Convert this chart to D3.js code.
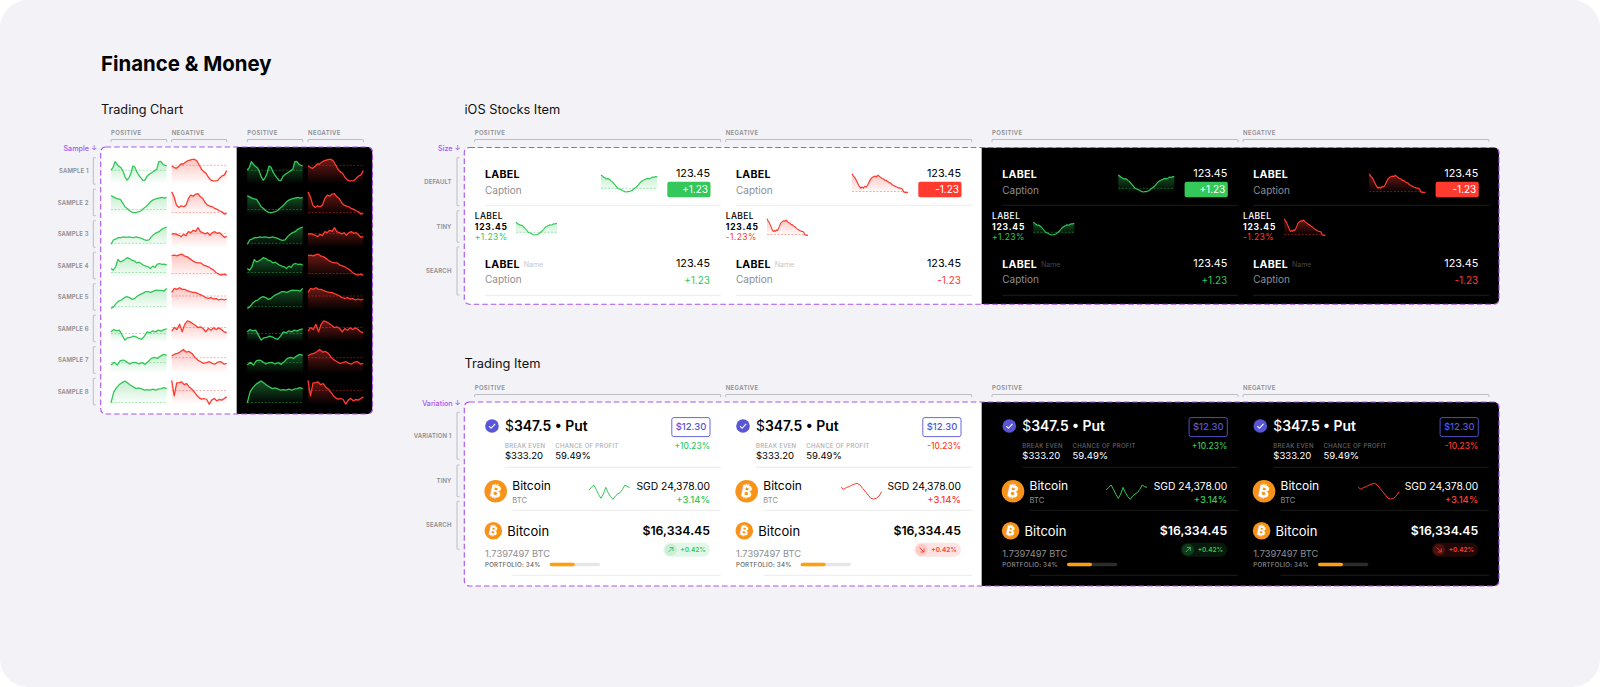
<!DOCTYPE html>
<html>
<head>
<meta charset="utf-8">
<script src="https://cdn.jsdelivr.net/npm/d3@7"></script>
<style>
  html, body { margin: 0; padding: 0; background: #fff; }
  svg { display: block; }
  text { font-family: Inter, "Noto Sans", sans-serif; }
</style>
</head>
<body>
<div id="chart"></div>
<script>
const sampleNames = ["SAMPLE 1", "SAMPLE 2", "SAMPLE 3", "SAMPLE 4", "SAMPLE 5", "SAMPLE 6", "SAMPLE 7", "SAMPLE 8"]
const toneNames = ["POSITIVE", "NEGATIVE"]
const stockRows = ["DEFAULT", "TINY", "SEARCH"]
const tradeRows = ["VARIATION 1", "TINY", "SEARCH"]

const positiveSamples = [
  [43,50,68,61,54,50,40,23,12,19,33,55,51,37,27,19,12,11,23,29,33,37,41,45,68,69,61,57,55],
  [61,57,53,51,49,39,27,22,15,11,9,10,12,15,22,27,34,42,47,50,52,54,55,53,55],
  [9,22,25,29,29,31,30,31,30,29,31,29,27,23,21,22,32,39,44,47,54,58,61],
  [31,26,36,58,51,54,58,64,61,56,54,48,50,46,41,38,36,31,38,34,44,46,43,44,41],
  [5,11,21,28,31,38,41,38,33,36,43,48,51,56,56,54,58,61,60,60,58,66],
  [30,37,33,35,20,5,12,13,17,15,10,7,17,30,27,33,30,35,32,37,39],
  [25,33,25,38,40,35,28,32,33,28,32,27,35,45,48,45,52,57,55],
  [6,39,52,61,67,72,66,59,54,49,51,48,44,46,44,47,44,47,49,52,49]
]
const negativeSamples = [
  [55,51,48,53,61,61,66,71,73,75,75,70,58,45,38,33,21,13,10,10,11,19,25,28,41],
  [72,57,32,25,30,27,32,52,62,59,65,67,57,52,39,32,29,27,22,19,15,12,5,7],
  [39,41,39,36,32,39,35,47,44,51,48,59,47,44,40,44,36,44,47,42,44,37,30,33],
  [70,71,69,73,74,68,66,60,54,50,48,48,42,39,36,31,26,18,14,11,14,10],
  [54,66,63,68,63,63,59,56,54,54,50,47,43,38,36,38,34,35,31,34,31,34],
  [32,43,37,53,30,53,63,60,55,50,43,45,40,30,40,35,42,37,42,37,30,28],
  [52,58,60,65,72,64,66,60,48,40,35,30,32,35,30,28,34,35,28,30],
  [74,27,66,67,69,61,64,54,48,39,29,21,17,19,16,2,14,19,12,16,14,19,24]
]
const positiveBase = [42, 19, 12, 19, 11, 25, 33, 7]
const negativeBase = [57, 10, 42, 16, 43, 43, 47, 43]

const stockUp = [55,52,48,46,43,44,42,38,35,30,25,20,15,13,12,9,7,5,4,5,5,7,8,12,15,18,22,27,32,36,38,41,42,45,44,44,47,49,48,50,50]
const stockDown = [68,60,55,45,35,25,18,22,18,24,22,30,40,50,55,58,60,58,63,60,55,52,50,45,45,40,38,35,30,27,25,22,20,18,18,15,5,3,2,4]
const stockUpBase = 15
const stockDownBase = 6
const tradeUp = [35,43,50,37,22,10,23,43,27,15,7,17,23,27,37,50,45,43]
const tradeDown = [43,37,43,45,50,53,55,50,40,30,20,10,8,10,17,30]

const GREEN = "#34c759", RED = "#ff3b30", INDIGO = "#5856d6", ORANGE = "#f7931a", PURPLE = "#a855f0"

const svg = d3.select("#chart").append("svg").attr("width", 1600).attr("height", 687)
const defs = svg.append("defs")
let gradId = 0

svg.append("rect").attr("width", 1600).attr("height", 687).attr("rx", 28).attr("fill", "#f2f2f7")

function label(g, x, y, str, o = {}) {
  return g.append("text")
    .attr("x", x).attr("y", y)
    .attr("dy", "0.36em")
    .attr("text-anchor", o.anchor || "start")
    .attr("font-size", o.size || 10)
    .attr("font-weight", o.weight || 400)
    .attr("letter-spacing", o.ls || 0)
    .attr("fill", o.fill || "#000")
    .text(str)
}

function gradient(color, peak) {
  const id = "fade" + gradId++
  const lg = defs.append("linearGradient").attr("id", id).attr("x1", 0).attr("x2", 0).attr("y1", 0).attr("y2", 1)
  lg.append("stop").attr("offset", 0).attr("stop-color", color).attr("stop-opacity", peak)
  lg.append("stop").attr("offset", 1).attr("stop-color", color).attr("stop-opacity", 0)
  return `url(#${id})`
}

// one small chart: filled area, dashed base line, line on top
function spark(g, values, base, box, domainMax, color, dark, lw) {
  const x = d3.scaleLinear().domain([0, values.length - 1]).range([box.x0, box.x1])
  const y = d3.scaleLinear().domain([0, domainMax]).range([box.y1, box.y0])
  if (base !== null) {
    const area = d3.area().x((d, i) => x(i)).y0(box.y1).y1(d => y(d))
    g.append("path").datum(values).attr("d", area).attr("fill", gradient(color, dark ? 0.42 : 0.3))
    g.append("line")
      .attr("x1", box.x0).attr("x2", box.x1)
      .attr("y1", y(base)).attr("y2", y(base))
      .attr("stroke", color).attr("stroke-width", 0.7)
      .attr("stroke-dasharray", "2 1.5").attr("opacity", 0.6)
  }
  const line = d3.line().x((d, i) => x(i)).y(d => y(d))
  g.append("path").datum(values).attr("d", line)
    .attr("fill", "none").attr("stroke", color).attr("stroke-width", lw || 1).attr("stroke-linejoin", "round")
}

// "[" shaped bracket on the left of a row
function rowBracket(g, x, y0, y1) {
  g.append("path")
    .attr("d", `M${x + 2.4},${y0}H${x + 0.6}Q${x},${y0} ${x},${y0 + 0.6}V${y1 - 0.6}Q${x},${y1} ${x + 0.6},${y1}H${x + 2.4}`)
    .attr("fill", "none").attr("stroke", "#aeaeb4").attr("stroke-width", 0.8)
}

// bracket above a column
function topBracket(g, x0, x1, y, name) {
  label(g, x0, y - 7, name, { size: 6, weight: 600, ls: 0.35, fill: "#8e8e93" })
  g.append("path")
    .attr("d", `M${x0},${y + 2.6}V${y + 0.6}Q${x0},${y} ${x0 + 0.6},${y}H${x1 - 0.6}Q${x1},${y} ${x1},${y + 0.6}V${y + 2.6}`)
    .attr("fill", "none").attr("stroke", "#aeaeb4").attr("stroke-width", 0.8)
}

// white + black panel with the dashed outline
function frame(g, x0, x1, y0, y1, split, name) {
  const id = "clip" + gradId++
  defs.append("clipPath").attr("id", id).append("rect")
    .attr("x", x0).attr("y", y0).attr("width", x1 - x0).attr("height", y1 - y0).attr("rx", 5)
  const inner = g.append("g").attr("clip-path", `url(#${id})`)
  inner.append("rect").attr("x", x0).attr("y", y0).attr("width", split - x0).attr("height", y1 - y0).attr("fill", "#fff")
  inner.append("rect").attr("x", split).attr("y", y0).attr("width", x1 - split).attr("height", y1 - y0).attr("fill", "#000")
  g.append("rect")
    .attr("x", x0).attr("y", y0).attr("width", x1 - x0).attr("height", y1 - y0).attr("rx", 5)
    .attr("fill", "none").attr("stroke", PURPLE).attr("stroke-width", 1.1).attr("stroke-dasharray", "5.5 3")
  label(g, x0 - 3.6, y0 + 1.2, name + " ↓", { anchor: "end", size: 7.2, weight: 500, fill: PURPLE })
}

function hairline(g, x0, x1, y, dark) {
  g.append("line").attr("x1", x0).attr("x2", x1).attr("y1", y).attr("y2", y)
    .attr("stroke", dark ? "#232325" : "#e6e6ea").attr("stroke-width", 0.8)
}

function bitcoin(g, cx, cy, r) {
  g.append("circle").attr("cx", cx).attr("cy", cy).attr("r", r).attr("fill", ORANGE)
  g.append("text")
    .attr("transform", `translate(${cx},${cy}) rotate(12)`)
    .attr("text-anchor", "middle").attr("dy", "0.36em")
    .attr("font-size", r * 1.45).attr("font-weight", 800).attr("fill", "#fff")
    .text("₿")
}

// ---- Titles ----
label(svg, 101, 64, "Finance & Money", { size: 20.4, weight: 700 })
label(svg, 101, 109, "Trading Chart", { size: 12.7, weight: 400, fill: "#111" })
label(svg, 464.5, 109, "iOS Stocks Item", { size: 12.8, weight: 400, fill: "#111" })
label(svg, 464.5, 363, "Trading Item", { size: 12.8, weight: 400, fill: "#111" })

// ---- Trading Chart ----
const tc = svg.append("g")
const tcColumns = [[111, 166.7], [171.7, 226.7], [247.3, 302.7], [308, 363.3]]
tcColumns.forEach((c, i) => topBracket(tc, c[0], c[1], 139.5, toneNames[i % 2]))
frame(tc, 100.7, 372.5, 147, 414, 236.7, "Sample")

const rowY = d3.scaleLinear().domain([0, 7]).range([157.7, 378.3])
const rowH = 26.5
sampleNames.forEach((name, i) => {
  const top = rowY(i)
  rowBracket(tc, 93.3, top, top + rowH)
  label(tc, 88.6, top + 13.2, name, { anchor: "end", size: 6, weight: 600, ls: 0.12, fill: "#8e8e93" })
  tcColumns.forEach((c, j) => {
    const neg = j % 2 === 1
    const box = { x0: c[0], x1: c[1], y0: top, y1: top + rowH }
    spark(tc, neg ? negativeSamples[i] : positiveSamples[i], neg ? negativeBase[i] : positiveBase[i],
      box, 80, neg ? RED : GREEN, j > 1, 1.3)
  })
})

// ---- iOS Stocks Item ----
const ios = svg.append("g")
const offsets = [0, 251, 517.3, 768.3]
offsets.forEach((o, i) => topBracket(ios, 474.7 + o, 720.7 + o, 139.5, toneNames[i % 2]))
frame(ios, 464.3, 1499, 147.5, 304.3, 981.7, "Size")

const stockBrackets = [[157.7, 205.7], [210.7, 242.3], [247, 295]]
stockRows.forEach((name, i) => {
  const [a, b] = stockBrackets[i]
  rowBracket(ios, 457, a, b)
  label(ios, 451.5, (a + b) / 2, name, { anchor: "end", size: 6, weight: 600, ls: 0.12, fill: "#8e8e93" })
})

offsets.forEach((o, i) => {
  const neg = i % 2 === 1, dark = i > 1
  const color = neg ? RED : GREEN
  const ink = dark ? "#fff" : "#000"
  const sub = "#8e8e93"
  const g = ios.append("g").attr("transform", `translate(${o},0)`)
  const vals = neg ? stockDown : stockUp
  const base = neg ? stockDownBase : stockUpBase
  const dmax = neg ? 70 : 60
  const val = neg ? "-1.23" : "+1.23"

  // default row
  label(g, 485, 174, "LABEL", { size: 10.6, weight: 700, ls: 0.3, fill: ink })
  label(g, 485, 190, "Caption", { size: 10, fill: sub })
  label(g, 710, 173.3, "123.45", { anchor: "end", size: 10.8, fill: ink })
  g.append("rect").attr("x", 667.3).attr("y", 181.7).attr("width", 43.2).attr("height", 15.6).attr("rx", 2).attr("fill", color)
  label(g, 708, 189.8, val, { anchor: "end", size: 10, fill: "#fff" })
  spark(g, vals, base, { x0: 601, x1: 657, y0: 173.3, y1: 193.3 }, dmax, color, dark, 1.2)
  hairline(g, 485, 720.7, 205.3, dark)

  // tiny row
  label(g, 474.7, 216, "LABEL", { size: 8.5, weight: 500, ls: 0.4, fill: ink })
  label(g, 474.7, 226.7, "123.45", { size: 8.5, weight: 700, ls: 0.8, fill: ink })
  label(g, 474.7, 237.3, (neg ? "-1.23%" : "+1.23%"), { size: 8.5, weight: 400, ls: 0.4, fill: color })
  spark(g, vals, base, { x0: 516, x1: 557, y0: neg ? 218.3 : 221, y1: 236 }, dmax, color, dark, 1.1)

  // search row
  label(g, 485, 263.7, "LABEL", { size: 10.6, weight: 700, ls: 0.3, fill: ink })
  label(g, 523.7, 264.5, "Name", { size: 7, fill: dark ? "#444448" : "#c7c7cc" })
  label(g, 485, 279.7, "Caption", { size: 10, fill: sub })
  label(g, 710, 263.5, "123.45", { anchor: "end", size: 10.8, fill: ink })
  label(g, 710, 280, val, { anchor: "end", size: 10, fill: color })
  hairline(g, 485, 720.7, 295.3, dark)
})

// ---- Trading Item ----
const ti = svg.append("g")
offsets.forEach((o, i) => topBracket(ti, 474.7 + o, 720.7 + o, 394.5, toneNames[i % 2]))
frame(ti, 464.3, 1499, 402, 586, 981.7, "Variation")

const tradeBrackets = [[412.3, 459.3], [465, 496.7], [501.3, 549.3]]
tradeRows.forEach((name, i) => {
  const [a, b] = tradeBrackets[i]
  rowBracket(ti, 457, a, b)
  label(ti, 451.5, (a + b) / 2, name, { anchor: "end", size: 6, weight: 600, ls: 0.12, fill: "#8e8e93" })
})

offsets.forEach((o, i) => {
  const neg = i % 2 === 1, dark = i > 1
  const color = neg ? RED : GREEN
  const ink = dark ? "#fff" : "#000"
  const g = ti.append("g").attr("transform", `translate(${o},0)`)

  // variation row
  g.append("circle").attr("cx", 492).attr("cy", 426).attr("r", 6.8).attr("fill", INDIGO)
  g.append("path").attr("d", "M489,426.2L491.1,428.3L495.2,423.9")
    .attr("fill", "none").attr("stroke", "#fff").attr("stroke-width", 1.1)
  const t = label(g, 505, 426, "$", { size: 13.9, weight: 400, fill: ink })
  t.append("tspan").attr("font-weight", 600).text("347.5 • Put")
  label(g, 505, 445.7, "BREAK EVEN", { size: 6, weight: 500, ls: 0.3, fill: dark ? "#636366" : "#aeaeb2" })
  label(g, 555.3, 445.7, "CHANCE OF PROFIT", { size: 6, weight: 500, ls: 0.3, fill: dark ? "#636366" : "#aeaeb2" })
  label(g, 505, 456, "$333.20", { size: 9.5, fill: ink })
  label(g, 555.3, 456, "59.49%", { size: 9.5, fill: ink })
  g.append("rect").attr("x", 671.8).attr("y", 417.6).attr("width", 38.2).attr("height", 19)
    .attr("rx", 2).attr("fill", "none").attr("stroke", INDIGO).attr("stroke-width", 0.9)
  label(g, 691, 427, "$12.30", { anchor: "middle", size: 9.5, weight: 500, fill: INDIGO })
  label(g, 710, 446.3, neg ? "-10.23%" : "+10.23%", { anchor: "end", size: 8.4, weight: 500, fill: color })
  hairline(g, 505, 720.7, 467.3, dark)

  // tiny row
  bitcoin(g, 495.7, 491.3, 11.3)
  label(g, 512.3, 485.3, "Bitcoin", { size: 12, fill: ink })
  label(g, 512.3, 500, "BTC", { size: 7.5, fill: "#8e8e93" })
  const sx = { x0: neg ? 590 : 589, x1: neg ? 630.7 : 629.7, y0: 481.7, y1: 501.7 }
  spark(g, neg ? tradeDown : tradeUp, null, sx, 60, color, dark, 1)
  label(g, 710, 486, "SGD 24,378.00", { anchor: "end", size: 10.3, fill: ink })
  label(g, 710, 499.3, "+3.14%", { anchor: "end", size: 9.5, weight: 500, fill: color })
  hairline(g, 512.3, 720.7, 510.3, dark)

  // search row
  bitcoin(g, 493.3, 530.7, 8.8)
  label(g, 507.3, 531, "Bitcoin", { size: 13, fill: ink })
  label(g, 710, 530.3, "$16,334.45", { anchor: "end", size: 12.3, weight: 600, fill: ink })
  label(g, 485, 553.3, "1.7397497 BTC", { size: 9.3, fill: "#8e8e93" })
  label(g, 485, 564.5, "PORTFOLIO: 34%", { size: 6.2, weight: 500, ls: 0.2, fill: dark ? "#8e8e93" : "#636366" })
  g.append("rect").attr("x", 549.7).attr("y", 562.7).attr("width", 50.3).attr("height", 3.6).attr("rx", 1.8)
    .attr("fill", dark ? "#2c2c2e" : "#e5e5ea")
  g.append("rect").attr("x", 549.7).attr("y", 562.7).attr("width", 25).attr("height", 3.6).attr("rx", 1.8)
    .attr("fill", "#ff9f0a")
  g.append("rect").attr("x", 663.3).attr("y", 542.7).attr("width", 46.7).attr("height", 14).attr("rx", 7)
    .attr("fill", color).attr("fill-opacity", dark ? 0.13 : 0.14)
  g.append("circle").attr("cx", 670.7).attr("cy", 549.7).attr("r", 6)
    .attr("fill", color).attr("fill-opacity", dark ? 0.2 : 0.14)
  g.append("path")
    .attr("d", neg ? "M668.5,547.5L673,552M673,548.6V552H669.6" : "M668.5,552L673,547.5M669.6,547.5H673V550.9")
    .attr("fill", "none").attr("stroke", color).attr("stroke-width", 0.9)
  label(g, 705.8, 549.8, "+0.42%", { anchor: "end", size: 6.5, weight: 600, fill: color })
  hairline(g, 512.3, 720.7, 575.3, dark)
})
</script>
</body>
</html>
